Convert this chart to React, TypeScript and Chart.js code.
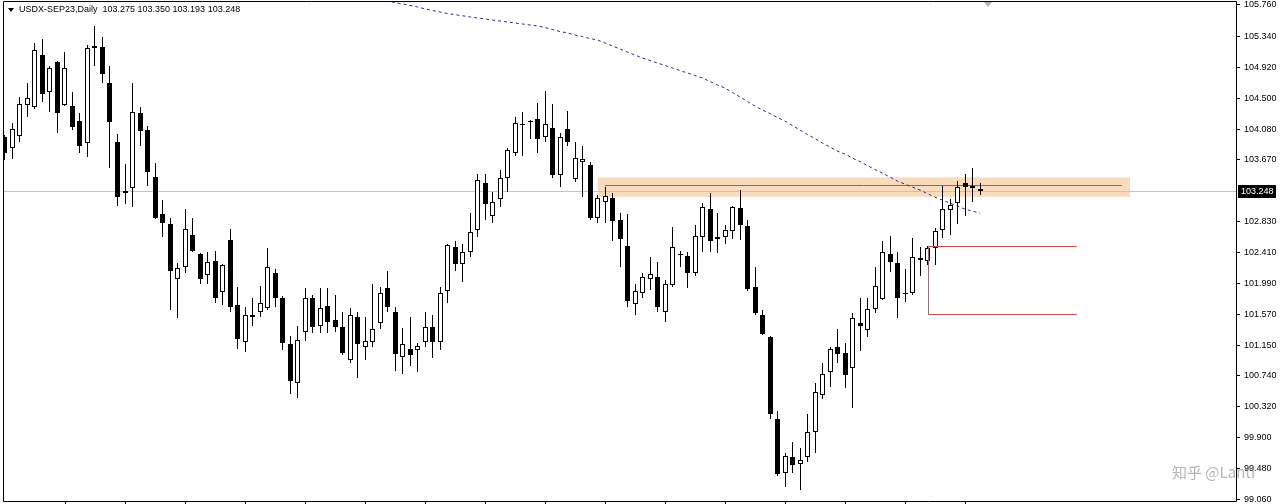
import React, { useEffect, useRef } from 'react';
import { Chart, registerables } from 'chart.js';

Chart.register(...registerables);

// ---------- data ----------
const opens = [
  103.97, 103.82, 103.99, 104.41, 104.38, 105.08, 104.58, 104.99, 104.41, 104.39,
  104.19, 103.89, 105.18, 105.19, 104.70, 103.90, 103.21, 103.28, 104.30, 104.07,
  103.43, 102.93, 102.79, 102.05, 102.21, 102.64, 102.39, 102.10, 102.29, 101.87,
  102.58, 101.70, 101.20, 101.53, 101.61, 101.66, 102.13, 101.79, 101.17, 100.64,
  101.34, 101.79, 101.41, 101.68, 101.49, 101.40, 100.96, 101.53, 101.13, 101.20,
  101.45, 101.93, 101.61, 100.99, 101.11, 101.09, 101.20, 101.40, 101.20, 101.89,
  102.48, 102.25, 102.41, 102.71, 103.35, 102.90, 103.13, 103.42, 103.76, 104.13,
  104.17, 104.22, 103.97, 104.09, 103.46, 104.08, 103.40, 103.63, 103.59, 102.88,
  103.09, 103.15, 102.85, 102.50, 101.71, 101.86, 102.05, 102.08, 101.61, 101.97,
  102.37, 102.36, 102.13, 102.62, 103.00, 102.59, 102.62, 102.70, 103.01, 102.77,
  101.94, 101.57, 101.26, 100.16, 99.43, 99.64, 99.55, 99.64, 99.98, 100.48,
  100.79, 101.13, 101.05, 100.84, 101.45, 101.36, 101.64, 101.78, 102.39, 102.27,
  101.85, 101.86, 102.33, 102.29, 102.47, 102.71, 102.98, 103.08, 103.35, 103.28,
  103.275,
];
const highs = [
  104.00, 104.16, 104.51, 104.70, 105.25, 105.30, 104.93, 105.00, 105.12, 104.58,
  104.30, 105.22, 105.48, 105.33, 104.93, 104.01, 103.61, 104.70, 104.38, 104.12,
  103.62, 103.12, 102.88, 102.27, 103.00, 102.88, 102.40, 102.41, 102.43, 102.25,
  102.73, 101.94, 101.67, 101.80, 101.95, 102.47, 102.18, 101.82, 101.28, 101.41,
  101.93, 101.83, 101.93, 101.93, 101.83, 101.61, 101.66, 101.60, 101.53, 101.99,
  101.94, 102.16, 101.67, 101.39, 101.53, 101.18, 101.61, 101.57, 101.94, 102.52,
  102.56, 102.52, 102.94, 103.47, 103.47, 103.23, 103.53, 103.82, 104.24, 104.31,
  104.20, 104.43, 104.60, 104.42, 104.03, 104.32, 103.90, 103.85, 103.63, 103.19,
  103.29, 103.21, 102.95, 102.93, 101.99, 102.13, 102.35, 102.28, 102.04, 102.75,
  102.43, 102.41, 102.78, 103.08, 103.21, 102.94, 102.78, 103.04, 103.25, 102.85,
  102.22, 101.63, 101.28, 100.27, 99.69, 99.84, 99.76, 100.22, 100.65, 100.91,
  101.13, 101.37, 101.18, 101.59, 101.80, 101.80, 102.21, 102.56, 102.63, 102.41,
  102.18, 102.60, 102.48, 102.50, 102.74, 103.31, 103.13, 103.38, 103.47, 103.55,
  103.350,
];
const lows = [
  103.66, 103.67, 103.90, 104.24, 104.35, 104.45, 104.31, 104.03, 104.39, 104.07,
  103.76, 103.70, 104.93, 104.70, 103.55, 103.04, 103.06, 103.02, 103.85, 103.31,
  102.86, 102.62, 101.63, 101.52, 102.13, 102.41, 101.99, 101.99, 101.72, 101.70,
  101.61, 101.11, 101.06, 101.41, 101.53, 101.63, 101.67, 101.09, 100.49, 100.44,
  101.21, 101.32, 101.32, 101.32, 101.33, 101.02, 100.91, 100.71, 100.96, 101.13,
  101.37, 101.60, 100.80, 100.77, 100.87, 100.79, 101.13, 100.98, 101.09, 101.72,
  102.16, 102.01, 102.35, 102.62, 102.85, 102.81, 103.02, 103.23, 103.72, 103.72,
  103.95, 103.76, 103.90, 103.42, 103.29, 103.85, 103.36, 103.16, 102.85, 102.81,
  102.81, 102.56, 102.21, 101.67, 101.56, 101.80, 101.90, 101.60, 101.47, 101.94,
  102.22, 101.93, 102.09, 102.41, 102.41, 102.40, 102.52, 102.59, 102.58, 101.89,
  101.57, 101.29, 100.15, 99.39, 99.23, 99.42, 99.19, 99.57, 99.70, 100.43,
  100.59, 100.91, 100.57, 100.30, 101.07, 101.26, 101.59, 101.76, 102.14, 101.52,
  101.74, 101.84, 102.09, 102.24, 102.24, 102.60, 102.64, 102.79, 102.91, 103.09,
  103.193,
];
const closes = [
  103.76, 104.08, 104.42, 104.50, 105.15, 104.55, 104.91, 104.30, 104.91, 104.11,
  103.85, 105.18, 105.20, 104.83, 104.18, 103.16, 103.24, 104.31, 104.05, 103.50,
  102.88, 102.81, 102.16, 102.20, 102.73, 102.43, 102.05, 102.28, 101.80, 102.24,
  101.67, 101.24, 101.56, 101.56, 101.72, 102.22, 101.79, 101.18, 100.67, 101.22,
  101.79, 101.40, 101.66, 101.47, 101.40, 101.05, 101.57, 101.17, 101.21, 101.37,
  101.86, 101.67, 101.03, 101.17, 101.02, 101.14, 101.40, 101.20, 101.86, 102.51,
  102.25, 102.41, 102.69, 103.39, 103.06, 103.10, 103.42, 103.80, 104.16, 104.15,
  104.18, 103.95, 104.15, 103.46, 103.97, 103.90, 103.69, 103.67, 102.88, 103.15,
  103.17, 102.83, 102.59, 101.75, 101.89, 102.08, 102.12, 101.67, 101.98, 102.49,
  102.38, 102.13, 102.63, 103.02, 102.56, 102.62, 102.71, 103.02, 102.78, 101.91,
  101.59, 101.30, 100.23, 99.41, 99.65, 99.54, 99.60, 99.98, 100.52, 100.77,
  101.10, 101.03, 100.75, 101.52, 101.41, 101.64, 101.95, 102.41, 102.28, 101.80,
  101.86, 102.35, 102.31, 102.47, 102.70, 103.00, 103.05, 103.29, 103.29, 103.31,
  103.248,
];

// moving average (dotted line), first value belongs to bar maStart
const maStart = 50;
const maValues = [
  105.835, 105.814, 105.793, 105.774, 105.755, 105.733, 105.706, 105.686, 105.665, 105.645,
  105.629, 105.614, 105.598, 105.584, 105.571, 105.557, 105.543, 105.530, 105.516, 105.503,
  105.489, 105.476, 105.455, 105.428, 105.401, 105.381, 105.354, 105.333, 105.306, 105.286,
  105.245, 105.205, 105.164, 105.123, 105.083, 105.042, 105.008, 104.974, 104.941, 104.907,
  104.873, 104.839, 104.805, 104.771, 104.724, 104.676, 104.636, 104.575, 104.514, 104.453,
  104.392, 104.338, 104.290, 104.236, 104.189, 104.128, 104.067, 104.006, 103.952, 103.891,
  103.836, 103.782, 103.742, 103.687, 103.640, 103.586, 103.532, 103.484, 103.430, 103.376,
  103.335, 103.295, 103.254, 103.206, 103.159, 103.118, 103.078, 103.037, 102.996, 102.969,
  102.942,
];

const yTickValues = [
  105.76, 105.34, 104.92, 104.5, 104.08, 103.67, 102.83, 102.41,
  101.99, 101.57, 101.15, 100.74, 100.32, 99.9, 99.48, 99.06,
];
const lastPrice = 103.248;
const symbolTitle = 'USDX-SEP23,Daily';
const headerOHLC = ['103.275', '103.350', '103.193', '103.248'];

// resistance zone (bar index range, price range)
const zoneBars = [79.0, 150.0];
const zonePrices = [103.426, 103.163];
const resistanceBars = [80.0, 148.9];
const resistancePrice = 103.317;
// measured-move bracket
const bracketBars = [123.07, 142.9];
const bracketPrices = [102.50, 101.58];
const xTickEvery = 8;
const watermark = '知乎 @Lanti';

const FONT = '"Liberation Sans", Arial, sans-serif';

export default function App() {
  const ref = useRef<HTMLCanvasElement | null>(null);

  useEffect(() => {
    const canvas = ref.current;
    if (!canvas) return;

    const n = opens.length;
    const wickData = opens.map((_, i) => ({ x: i, y: [lows[i], highs[i]] }));
    const bodyData = opens.map((o, i) => ({ x: i, y: [o, closes[i]] }));
    const bodyColors = opens.map((o, i) => (closes[i] >= o ? '#ffffff' : '#000000'));
    const maData = maValues.map((v, k) => ({ x: maStart + k, y: v }));

    const overlay = {
      id: 'overlay',
      beforeDatasetsDraw(chart: any) {
        const { ctx, chartArea: a, scales } = chart;
        const x = scales.x, y = scales.y;
        // snap candle elements to the pixel grid for crisp edges
        chart.data.datasets.forEach((ds: any, di: number) => {
          if (ds.type !== 'bar') return;
          const meta = chart.getDatasetMeta(di);
          meta.data.forEach((el: any) => {
            el.x = Math.floor(el.x) + 0.5;
            let top = Math.round(el.y);
            let base = Math.round(el.base);
            if (Math.abs(top - base) < 1) base = top + 1;
            el.y = top;
            el.base = base;
            el.height = base - top;
          });
        });
        ctx.save();
        ctx.beginPath();
        ctx.rect(a.left, a.top, a.right - a.left, a.bottom - a.top);
        ctx.clip();
        // zone
        const zx1 = x.getPixelForValue(zoneBars[0]);
        const zx2 = x.getPixelForValue(zoneBars[1]);
        const zy1 = y.getPixelForValue(zonePrices[0]);
        const zy2 = y.getPixelForValue(zonePrices[1]);
        ctx.fillStyle = '#f9dcbd';
        ctx.fillRect(zx1, zy1, zx2 - zx1, zy2 - zy1);
        // current price line
        const py = Math.round(y.getPixelForValue(lastPrice)) + 0.5;
        ctx.strokeStyle = '#c4c4c4';
        ctx.lineWidth = 1;
        ctx.beginPath();
        ctx.moveTo(a.left, py);
        ctx.lineTo(a.right, py);
        ctx.stroke();
        // resistance line
        const ry = Math.round(y.getPixelForValue(resistancePrice)) + 0.5;
        ctx.strokeStyle = '#d2464e';
        ctx.beginPath();
        ctx.moveTo(x.getPixelForValue(resistanceBars[0]), ry);
        ctx.lineTo(x.getPixelForValue(resistanceBars[1]), ry);
        ctx.stroke();
        ctx.restore();
      },
      afterDatasetsDraw(chart: any) {
        const { ctx, chartArea: a, scales } = chart;
        const x = scales.x, y = scales.y;
        ctx.save();
        // bracket
        const bx1 = Math.round(x.getPixelForValue(bracketBars[0])) + 0.5;
        const bx2 = x.getPixelForValue(bracketBars[1]);
        const by1 = Math.round(y.getPixelForValue(bracketPrices[0])) + 0.5;
        const by2 = Math.round(y.getPixelForValue(bracketPrices[1])) + 0.5;
        ctx.lineWidth = 1;
        ctx.strokeStyle = '#d2464e';
        ctx.beginPath();
        ctx.moveTo(bx1, by1); ctx.lineTo(bx2, by1);
        ctx.moveTo(bx1, by2); ctx.lineTo(bx2, by2);
        ctx.stroke();
        ctx.strokeStyle = '#8a7070';
        ctx.beginPath();
        ctx.moveTo(bx1, by1); ctx.lineTo(bx1, by2);
        ctx.stroke();
        // frame
        ctx.strokeStyle = '#000000';
        ctx.beginPath();
        ctx.rect(Math.round(a.left) - 0.5, Math.round(a.top) + 0.5,
          Math.round(a.right - a.left) + 1, Math.round(a.bottom - a.top));
        ctx.stroke();
        ctx.restore();
      },
      afterDraw(chart: any) {
        const { ctx, chartArea: a, scales } = chart;
        const x = scales.x, y = scales.y;
        ctx.save();
        // header
        ctx.fillStyle = '#000';
        ctx.beginPath();
        ctx.moveTo(8, 8); ctx.lineTo(14, 8); ctx.lineTo(11, 12); ctx.closePath();
        ctx.fill();
        ctx.font = `9px ${FONT}`;
        ctx.textBaseline = 'middle';
        ctx.textAlign = 'left';
        ctx.fillText(symbolTitle + '  ' + headerOHLC.join(' '), 19, 10);
        // shift marker
        ctx.fillStyle = '#b4b4b4';
        ctx.beginPath();
        ctx.moveTo(984, 2); ctx.lineTo(992, 2); ctx.lineTo(988, 7); ctx.closePath();
        ctx.fill();
        // price label box
        const py = Math.round(y.getPixelForValue(lastPrice));
        ctx.fillStyle = '#000';
        ctx.fillRect(a.right + 2, py - 6, 38, 13);
        ctx.fillStyle = '#fff';
        ctx.font = `9px ${FONT}`;
        ctx.fillText(lastPrice.toFixed(3), a.right + 5, py + 0.5);
        // bottom time-axis ticks
        ctx.strokeStyle = '#000';
        ctx.lineWidth = 1;
        ctx.beginPath();
        for (let i = xTickEvery; i < n; i += xTickEvery) {
          const px = Math.round(x.getPixelForValue(i)) + 0.5;
          ctx.moveTo(px, a.bottom + 1);
          ctx.lineTo(px, a.bottom + 4);
        }
        ctx.stroke();
        // watermark
        ctx.font = `15px "Noto Sans CJK SC", sans-serif`;
        ctx.textAlign = 'left';
        ctx.fillStyle = 'rgba(120,120,120,0.55)';
        ctx.fillText(watermark, 1172, 472);
        ctx.restore();
      },
    };

    const chart = new Chart(canvas, {
      type: 'bar',
      data: {
        datasets: [
          {
            type: 'line',
            data: maData,
            borderColor: '#2e2e8a',
            borderWidth: 1,
            borderDash: [3, 3],
            pointRadius: 0,
            fill: false,
            tension: 0,
            order: -1,
          } as any,
          {
            type: 'bar',
            data: wickData,
            backgroundColor: '#000000',
            borderWidth: 0,
            barThickness: 1,
            grouped: false,
            inflateAmount: 0,
            order: 2,
          } as any,
          {
            type: 'bar',
            data: bodyData,
            backgroundColor: bodyColors,
            borderColor: '#000000',
            borderWidth: 1,
            borderSkipped: false,
            barThickness: 5,
            minBarLength: 1,
            grouped: false,
            inflateAmount: 0,
            order: 1,
          } as any,
        ],
      },
      options: {
        responsive: false,
        maintainAspectRatio: false,
        animation: false,
        devicePixelRatio: 1,
        events: [],
        layout: { padding: { left: 4, top: 1, right: 0, bottom: 3 } },
        plugins: { legend: { display: false }, tooltip: { enabled: false } },
        scales: {
          x: {
            type: 'linear',
            display: false,
            offset: false,
            min: -0.1333,
            max: 164.133,
          },
          y: {
            type: 'linear',
            position: 'right',
            min: 99.046,
            max: 105.814,
            afterBuildTicks: (s: any) => {
              s.ticks = yTickValues.map((v) => ({ value: v }));
            },
            afterFit: (s: any) => {
              s.width = 44;
              s.paddingTop = 0;
              s.paddingBottom = 0;
            },
            ticks: {
              callback: (v: any) => Number(v).toFixed(3),
              font: { family: FONT, size: 9 },
              color: '#000',
              padding: 4,
              autoSkip: false,
              maxRotation: 0,
            },
            grid: { drawOnChartArea: false, drawTicks: true, tickLength: 4, color: '#000' },
            border: { display: false },
          },
        },
      } as any,
      plugins: [overlay],
    });

    return () => chart.destroy();
  }, []);

  return (
    <div style={{ position: 'absolute', left: 0, top: 0, width: 1280, height: 504, background: '#fff' }}>
      <canvas ref={ref} width={1280} height={504} style={{ display: 'block' }} />
    </div>
  );
}
